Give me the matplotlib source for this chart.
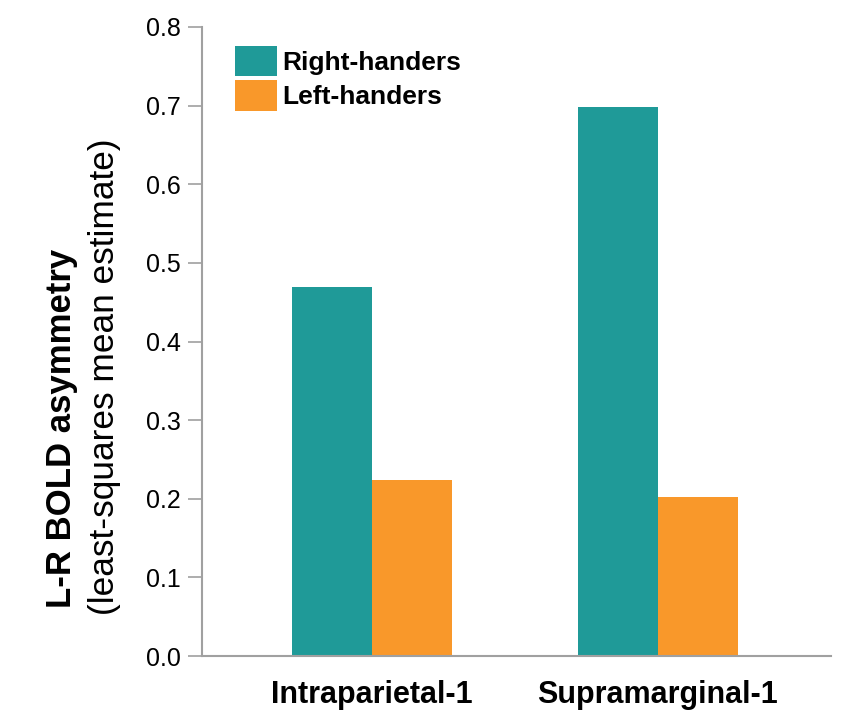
import numpy as np
import matplotlib
matplotlib.use('Agg')
import matplotlib.pyplot as plt

plt.rcParams['font.family'] = ['Liberation Sans', 'DejaVu Sans']

regions = ['Intraparietal-1', 'Supramarginal-1']
right_handers = [0.469, 0.698]
left_handers = [0.224, 0.202]
y_ticks = [0.0, 0.1, 0.2, 0.3, 0.4, 0.5, 0.6, 0.7, 0.8]

teal = '#1f9a98'
orange = '#f9982a'
axis_grey = '#a0a0a0'

fig = plt.figure(figsize=(8.5, 7.27), dpi=100)
ax = fig.add_axes([202 / 850, 1 - 656 / 727, (831 - 202) / 850, (656 - 27) / 727])

x = np.arange(len(regions))
w = 0.28
ax.bar(x - w / 2, right_handers, w, color=teal, label='Right-handers')
ax.bar(x + w / 2, left_handers, w, color=orange, label='Left-handers')

ax.set_xlim(-0.594, 1.605)
ax.set_ylim(0, 0.8)
ax.set_yticks(y_ticks)
ax.set_yticklabels([f'{v:.1f}' for v in y_ticks], fontsize=18)
ax.set_xticks(x)
ax.set_xticklabels(regions, fontsize=22, fontweight='bold')

for s in ['top', 'right']:
    ax.spines[s].set_visible(False)
for s in ['left', 'bottom']:
    ax.spines[s].set_color(axis_grey)
    ax.spines[s].set_linewidth(1.5)
ax.tick_params(axis='y', length=10, width=1.2, color=axis_grey, pad=5)
ax.tick_params(axis='x', length=0, pad=17)

leg = ax.legend(loc='upper left', bbox_to_anchor=(0.036, 0.987), frameon=False,
                prop={'weight': 'bold', 'size': 19}, handlelength=1.6,
                handleheight=1.4, handletextpad=0.2, labelspacing=0.15,
                borderaxespad=0)

fig.text(62 / 850, 1 - 608 / 727, 'L-R BOLD asymmetry', rotation=90,
         fontsize=25, fontweight='bold', ha='center', va='bottom')
fig.text(105 / 850, 1 - 615 / 727, '(least-squares mean estimate)', rotation=90,
         fontsize=25.4, ha='center', va='bottom')

fig.savefig('out.png', dpi=100)
